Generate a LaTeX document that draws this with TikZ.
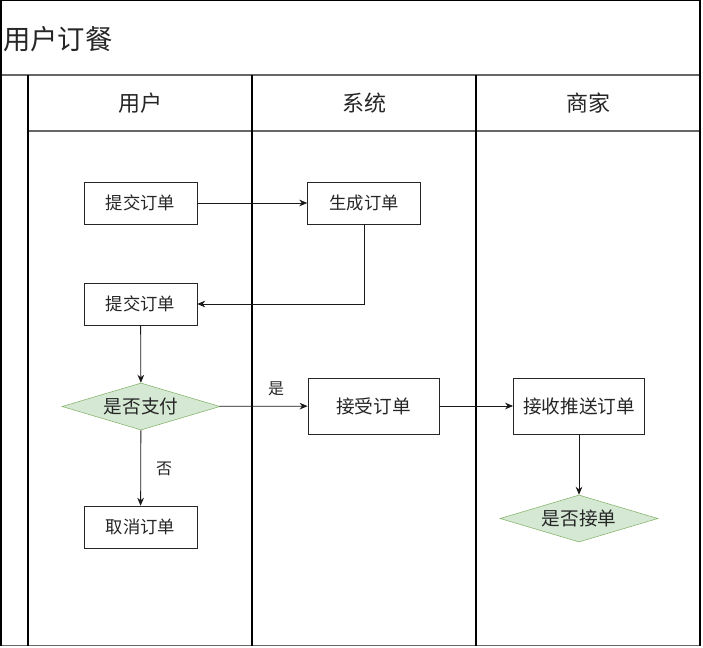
\documentclass[tikz,border=0pt]{standalone}
\usepackage{fontspec}
\setmainfont{Noto Sans CJK SC}
\usetikzlibrary{arrows.meta,shapes.geometric}

\definecolor{choiceline}{RGB}{130,179,102}
\definecolor{choicefill}{RGB}{213,232,212}

\tikzset{
	stepbox/.style={draw=black!85,fill=white,inner sep=0pt,minimum width=84.75pt,minimum height=31.5pt,font=\fontsize{13pt}{13pt}\selectfont,text=black!85},
	bigbox/.style={stepbox,minimum width=98.5pt,minimum height=42pt,font=\fontsize{14pt}{14pt}\selectfont},
	choice/.style={diamond,aspect=3.4,draw=choiceline,fill=choicefill,inner sep=0pt,minimum width=118.5pt,minimum height=35.25pt,font=\fontsize{14pt}{14pt}\selectfont,text=black!85},
	flow/.style={draw=black!90,line width=0.6pt,-{Stealth[length=6pt,width=5pt]}},
	lbl/.style={font=\fontsize{12pt}{12pt}\selectfont,text=black!85,inner sep=0pt}
}

\begin{document}
\begin{tikzpicture}[x=0.75pt,y=-0.75pt]
	\useasboundingbox (0,0) rectangle (703,648);
	
	%pool frame
	\fill[white] (0,0) rectangle (703,648);
	\draw[black!60,line width=0.8pt] (1,75)--(700,75);
	\draw[black!60,line width=0.8pt] (28,131)--(700,131);
	\draw[black!60,line width=1pt] (1,645.5)--(700,645.5);
	\draw[line width=1pt] (1,645.5)--(1,0.5)--(700,0.5)--(700,645.5);
	\draw[line width=0.8pt] (28,75)--(28,645.5);
	\draw[line width=0.8pt] (252,75)--(252,645.5);
	\draw[line width=0.8pt] (476,75)--(476,645.5);
	
	%titles
	\node[anchor=west,inner sep=0pt,font=\fontsize{20.5pt}{20.5pt}\selectfont,text=black!85] (pool) at (3,39) {用户订餐};
	\node[font=\fontsize{16.5pt}{16.5pt}\selectfont,text=black!85] (laneuser) at (140,103) {用户};
	\node[font=\fontsize{16.5pt}{16.5pt}\selectfont,text=black!85] (lanesys) at (364,103) {系统};
	\node[font=\fontsize{16.5pt}{16.5pt}\selectfont,text=black!85] (laneshop) at (588,103) {商家};
	
	%steps
	\node[stepbox] (submit) at (140.5,203) {提交订单};
	\node[stepbox] (create) at (364,203) {生成订单};
	\node[stepbox] (submit2) at (140.5,304) {提交订单};
	\node[choice] (pay) at (141,406.5) {是否支付};
	\node[stepbox] (cancel) at (140.5,527) {取消订单};
	\node[bigbox] (accept) at (373.5,406) {接受订单};
	\node[bigbox] (push) at (579,406) {接收推送订单};
	\node[choice] (take) at (579,518.5) {是否接单};
	
	%connectors
	\draw[flow] (submit)--(create);
	\draw[flow] (create.south) |- (submit2.east);
	\draw[flow] (submit2)--(pay);
	\draw[flow] (pay)--(accept);
	\node[lbl] (yes) at (276,389) {是};
	\draw[flow] (pay)--(cancel);
	\node[lbl] (no) at (164,469) {否};
	\draw[flow] (accept)--(push);
	\draw[flow] (push)--(take);
\end{tikzpicture}
\end{document}
